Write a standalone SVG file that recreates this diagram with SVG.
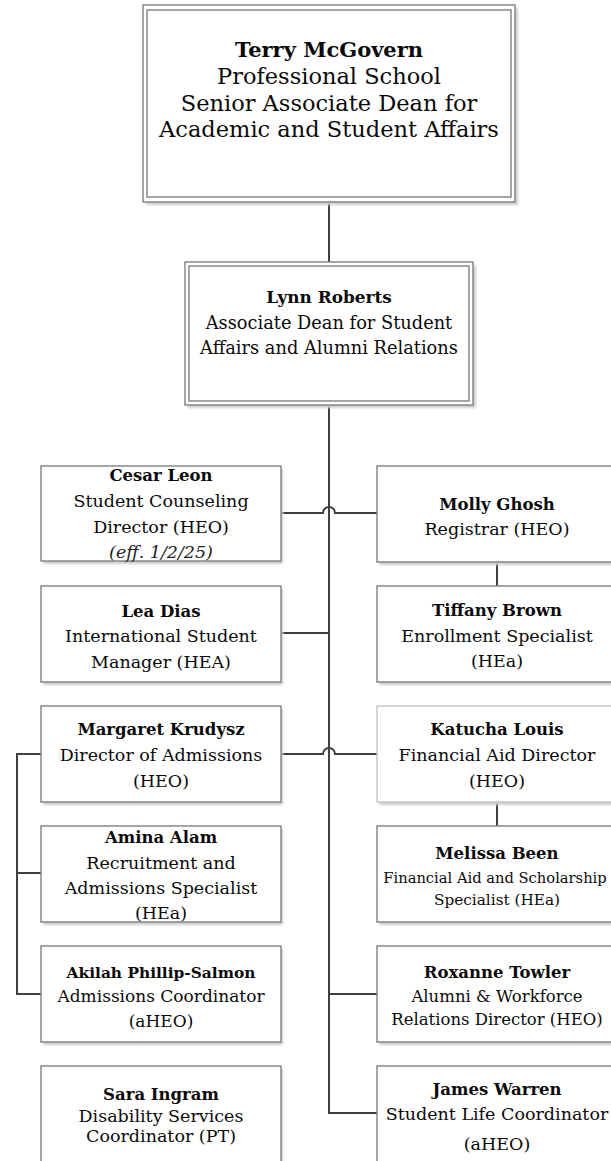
<svg xmlns="http://www.w3.org/2000/svg" width="611" height="1161" viewBox="0 0 611 1161">
<style>
.bg{fill:#ffffff}
.box{fill:#ffffff;stroke:#808080;stroke-width:1.4}
.boxl{fill:#ffffff;stroke:#c4c4c4;stroke-width:1.4}
.sh{fill:#cfcfcf;filter:url(#blur)}
.con{fill:none;stroke:#404040;stroke-width:2}
text{font-family:"DejaVu Serif","Liberation Serif",serif;fill:#0a0a0a;text-anchor:middle}
.n{font-weight:bold;font-size:16.5px}
.t{font-size:17.5px}
.i{font-size:17.5px;font-style:italic;fill:#222222}
</style>
<defs>
<filter id="blur" x="-10%" y="-10%" width="120%" height="130%"><feGaussianBlur stdDeviation="1.2"/></filter>
</defs>
<rect class="bg" x="0" y="0" width="611" height="1161"/>

<g id="connectors">
<line class="con" x1="329" y1="202" x2="329" y2="262"/>
<path class="con" d="M329,405 V1113 H377"/>
<path class="con" d="M281,513 H323 A6,6 0 0 1 335,513 H377"/>
<line class="con" x1="281" y1="633" x2="329" y2="633"/>
<path class="con" d="M281,754 H323 A6,6 0 0 1 335,754 H377"/>
<line class="con" x1="329" y1="994" x2="377" y2="994"/>
<line class="con" x1="497" y1="562" x2="497" y2="586"/>
<line class="con" x1="497" y1="802" x2="497" y2="826"/>
<path class="con" d="M41,754 H17 V994 H41"/>
<line class="con" x1="17" y1="873" x2="41" y2="873"/>
</g>

<g id="terry">
<rect class="sh" x="146" y="8" width="372" height="197"/>
<rect class="box" x="143" y="5" width="372" height="197"/>
<rect class="box" x="147" y="10" width="364" height="187"/>
<text x="329" y="57" style="font-weight:bold;font-size:21px">Terry McGovern</text>
<text x="329" y="84" style="font-size:22.5px">Professional School</text>
<text x="329" y="111" style="font-size:22.5px">Senior Associate Dean for</text>
<text x="329" y="137" style="font-size:22.5px">Academic and Student Affairs</text>
</g>

<g id="lynn">
<rect class="sh" x="188" y="265" width="288" height="143"/>
<rect class="box" x="185" y="262" width="288" height="143"/>
<rect class="box" x="189" y="266" width="280" height="135"/>
<text class="n" x="329" y="303" style="font-size:16.9px">Lynn Roberts</text>
<text class="t" x="329" y="329" style="font-size:17.8px">Associate Dean for Student</text>
<text class="t" x="329" y="354" style="font-size:17.8px">Affairs and Alumni Relations</text>
</g>

<g id="cesar">
<rect class="sh" x="43" y="469" width="240" height="95"/>
<rect class="box" x="41" y="466" width="240" height="95"/>
<text class="n" x="161" y="481">Cesar Leon</text>
<text class="t" x="161" y="507">Student Counseling</text>
<text class="t" x="161" y="533">Director (HEO)</text>
<text class="i" x="161" y="558">(eff. 1/2/25)</text>
</g>

<g id="lea">
<rect class="sh" x="43" y="589" width="240" height="96"/>
<rect class="box" x="41" y="586" width="240" height="96"/>
<text class="n" x="161" y="617">Lea Dias</text>
<text class="t" x="161" y="642">International Student</text>
<text class="t" x="161" y="668">Manager (HEA)</text>
</g>

<g id="margaret">
<rect class="sh" x="43" y="709" width="240" height="96"/>
<rect class="box" x="41" y="706" width="240" height="96"/>
<text class="n" x="161" y="735">Margaret Krudysz</text>
<text class="t" x="161" y="761">Director of Admissions</text>
<text class="t" x="161" y="787">(HEO)</text>
</g>

<g id="amina">
<rect class="sh" x="43" y="829" width="240" height="96"/>
<rect class="box" x="41" y="826" width="240" height="96"/>
<text class="n" x="161" y="843">Amina Alam</text>
<text class="t" x="161" y="869">Recruitment and</text>
<text class="t" x="161" y="894">Admissions Specialist</text>
<text class="t" x="161" y="919">(HEa)</text>
</g>

<g id="akilah">
<rect class="sh" x="43" y="949" width="240" height="96"/>
<rect class="box" x="41" y="946" width="240" height="96"/>
<text class="n" x="161" y="978" style="font-size:15.4px">Akilah Phillip-Salmon</text>
<text class="t" x="161" y="1002" style="font-size:17px">Admissions Coordinator</text>
<text class="t" x="161" y="1027" style="font-size:17px">(aHEO)</text>
</g>

<g id="sara">
<rect class="sh" x="43" y="1069" width="240" height="100"/>
<rect class="box" x="41" y="1066" width="240" height="100"/>
<text class="n" x="161" y="1100">Sara Ingram</text>
<text class="t" x="161" y="1122">Disability Services</text>
<text class="t" x="161" y="1142">Coordinator (PT)</text>
</g>

<g id="molly">
<rect class="sh" x="379" y="469" width="240" height="96"/>
<rect class="box" x="377" y="466" width="240" height="96"/>
<text class="n" x="497" y="510">Molly Ghosh</text>
<text class="t" x="497" y="535">Registrar (HEO)</text>
</g>

<g id="tiffany">
<rect class="sh" x="379" y="589" width="240" height="96"/>
<rect class="box" x="377" y="586" width="240" height="96"/>
<text class="n" x="497" y="616">Tiffany Brown</text>
<text class="t" x="497" y="642">Enrollment Specialist</text>
<text class="t" x="497" y="667">(HEa)</text>
</g>

<g id="katucha">
<rect class="sh" x="379" y="709" width="240" height="96"/>
<rect class="boxl" x="377" y="706" width="240" height="96"/>
<text class="n" x="497" y="735">Katucha Louis</text>
<text class="t" x="497" y="761">Financial Aid Director</text>
<text class="t" x="497" y="787">(HEO)</text>
</g>

<g id="melissa">
<rect class="sh" x="379" y="829" width="240" height="96"/>
<rect class="box" x="377" y="826" width="240" height="96"/>
<text class="n" x="497" y="859">Melissa Been</text>
<text class="t" x="495" y="883" style="font-size:14.7px">Financial Aid and Scholarship</text>
<text class="t" x="497" y="905" style="font-size:15.3px">Specialist (HEa)</text>
</g>

<g id="roxanne">
<rect class="sh" x="379" y="949" width="240" height="96"/>
<rect class="box" x="377" y="946" width="240" height="96"/>
<text class="n" x="497" y="978">Roxanne Towler</text>
<text class="t" x="497" y="1002" style="font-size:16.5px">Alumni &amp; Workforce</text>
<text class="t" x="497" y="1025" style="font-size:16.5px">Relations Director (HEO)</text>
</g>

<g id="james">
<rect class="sh" x="379" y="1069" width="240" height="100"/>
<rect class="box" x="377" y="1066" width="240" height="100"/>
<text class="n" x="497" y="1095">James Warren</text>
<text class="t" x="497" y="1120">Student Life Coordinator</text>
<text class="t" x="497" y="1150">(aHEO)</text>
</g>
</svg>
